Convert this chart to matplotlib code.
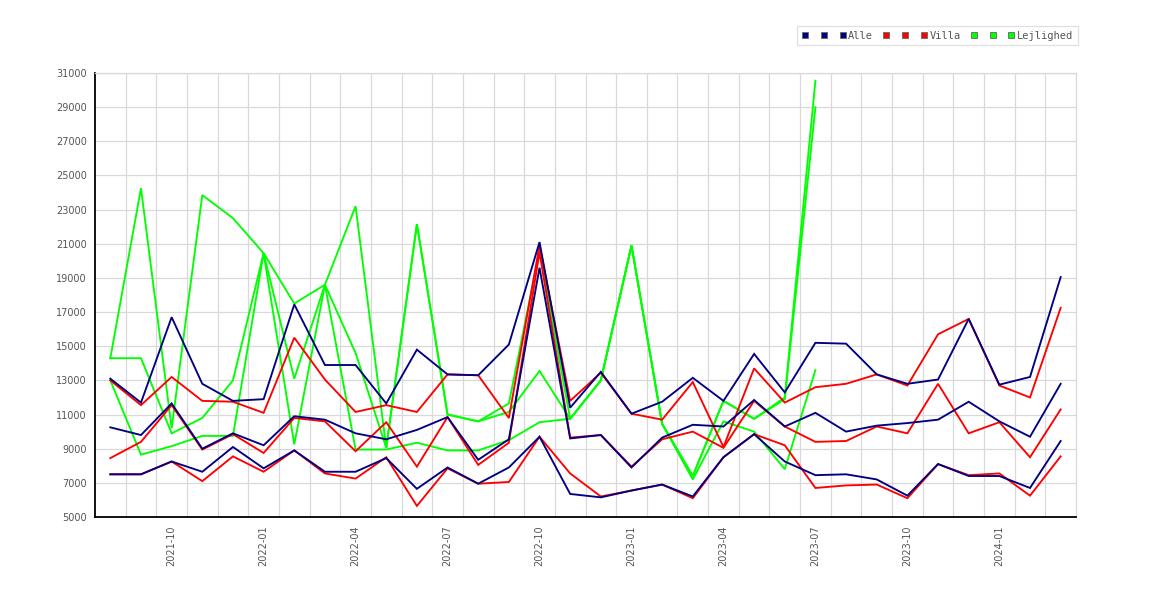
import matplotlib
matplotlib.use("Agg")
import matplotlib.pyplot as plt
from matplotlib.lines import Line2D
import numpy as np

# monthly categories 2021-08 .. 2024-03
months = ["2021-08", "2021-09", "2021-10", "2021-11", "2021-12",
          "2022-01", "2022-02", "2022-03", "2022-04", "2022-05", "2022-06",
          "2022-07", "2022-08", "2022-09", "2022-10", "2022-11", "2022-12",
          "2023-01", "2023-02", "2023-03", "2023-04", "2023-05", "2023-06",
          "2023-07", "2023-08", "2023-09", "2023-10", "2023-11", "2023-12",
          "2024-01", "2024-02", "2024-03"]

alle_hi = [13100, 11700, 16700, 12800, 11800, 11900, 17450, 13900,
           13900, 11650, 14800, 13350, 13300, 15100, 21100, 11400,
           13500, 11050, 11750, 13150, 11800, 14550, 12300, 15200,
           15150, 13350, 12800, 13050, 16600, 12750, 13200, 19050]
alle_mid = [10250, 9800, 11650, 9000, 9900, 9200, 10900, 10700,
            9900, 9550, 10100, 10850, 8350, 9550, 19600, 9600,
            9800, 7900, 9650, 10400, 10300, 11850, 10300, 11100,
            10000, 10350, 10500, 10700, 11750, 10600, 9700, 12800]
alle_lo = [7500, 7500, 8250, 7650, 9100, 7850, 8900, 7650,
           7650, 8450, 6650, 7900, 6950, 7900, 9700, 6350,
           6150, 6550, 6900, 6200, 8500, 9850, 8250, 7450,
           7500, 7200, 6250, 8100, 7400, 7400, 6700, 9450]

villa_hi = [13000, 11550, 13200, 11800, 11750, 11100, 15500, 13050,
            11150, 11550, 11150, 13350, 13300, 10800, 20900, 11800,
            13450, 11050, 10700, 12900, 9100, 13700, 11700, 12600,
            12800, 13350, 12700, 15700, 16600, 12700, 12000, 17250]
villa_mid = [8450, 9400, 11550, 8950, 9850, 8750, 10800, 10600,
             8850, 10550, 7950, 10850, 8050, 9350, 20500, 9650,
             9800, 7950, 9550, 10000, 9050, 11800, 10300, 9400,
             9450, 10300, 9900, 12800, 9900, 10550, 8500, 11300]
villa_lo = [7500, 7500, 8250, 7100, 8550, 7650, 8900, 7550,
            7250, 8500, 5650, 7850, 6950, 7050, 9700, 7550,
            6200, 6550, 6900, 6100, 8500, 9850, 9200, 6700,
            6850, 6900, 6100, 8100, 7450, 7550, 6250, 8550]

nan = np.nan
lejl_hi = [14300, 24250, 10200, 23850, 22500, 20450, 17500, 18600,
           23200, 9050, 22150, 11000, 10600, 11650, 20600, 10750,
           13000, 20900, 10450, 7400, 11800, 10750, 12000, 30550,
           nan, nan, nan, nan, nan, nan, nan, nan]
lejl_mid = [14300, 14300, 9900, 10800, 13000, 20450, 13100, 18600,
            14600, 9050, 22150, 11000, 10600, 11150, 13550, 10750,
            13000, 20900, 10450, 7400, 11800, 10750, 11900, 29000,
            nan, nan, nan, nan, nan, nan, nan, nan]
lejl_lo = [13000, 8650, 9150, 9750, 9750, 20450, 9250, 18600,
           8950, 8950, 9350, 8900, 8900, 9500, 10550, 10750,
           13000, 20900, 10450, 7200, 10600, 10000, 7800, 13600,
           nan, nan, nan, nan, nan, nan, nan, nan]

BLUE = "#000080"
RED = "#ff0000"
GREEN = "#00ff00"
GRID = "#d9d9d9"
TXT = "#555555"

fig = plt.figure(figsize=(11.7, 6.0), dpi=100)
ax = fig.add_axes([95 / 1170, 1 - 517 / 600, (1076 - 95) / 1170, (517 - 73) / 600])

x = np.arange(len(months))
# green drawn first, blue last (blue sits on top where lines overlap)
groups = [(lejl_hi, lejl_mid, lejl_lo, GREEN, 1),
          (villa_hi, villa_mid, villa_lo, RED, 2),
          (alle_hi, alle_mid, alle_lo, BLUE, 3)]
for hi, mid, lo, col, z in groups:
    for series in (hi, mid, lo):
        ax.plot(x, series, color=col, lw=1.35, zorder=z, solid_joinstyle="miter")

ax.set_xlim(-0.5, len(months) - 0.5)
ax.set_ylim(5000, 31000)
ax.set_yticks(np.arange(5000, 31001, 2000))
ax.set_xticks(x[2::3])
ax.set_xticklabels([months[i] for i in x[2::3]], rotation=90)
ax.set_xticks(np.arange(0.5, len(months) - 0.5, 1), minor=True)
ax.tick_params(axis="both", which="both", length=0, labelsize=7, labelcolor=TXT)
ax.tick_params(axis="y", pad=6)
ax.tick_params(axis="x", pad=6)
ax.grid(True, axis="y", which="major", color=GRID, lw=0.9)
ax.grid(True, axis="x", which="minor", color=GRID, lw=0.9)
ax.set_axisbelow(True)
for s in ("top", "right"):
    ax.spines[s].set_color(GRID)
    ax.spines[s].set_linewidth(0.9)
for s in ("left", "bottom"):
    ax.spines[s].set_color("black")
    ax.spines[s].set_linewidth(1.3)

colors = [BLUE] * 3 + [RED] * 3 + [GREEN] * 3
labels = ["", "", "Alle", "", "", "Villa", "", "", "Lejlighed"]
handles = [Line2D([], [], marker="s", ls="none", markersize=4.5,
                  markerfacecolor=c, markeredgecolor="#666666", markeredgewidth=0.6)
           for c in colors]
leg = fig.legend(handles, labels, ncol=9, loc="upper right",
                 bbox_to_anchor=(1078 / 1170, 1 - 26 / 600),
                 prop={"family": "DejaVu Sans Mono", "size": 7.5},
                 frameon=True, fancybox=False, edgecolor=GRID,
                 handlelength=0.7, handletextpad=0.2, columnspacing=0.9,
                 borderpad=0.45, borderaxespad=0)
leg.get_frame().set_linewidth(0.9)
for t in leg.get_texts():
    t.set_color(TXT)

fig.savefig("out.png", dpi=100)
